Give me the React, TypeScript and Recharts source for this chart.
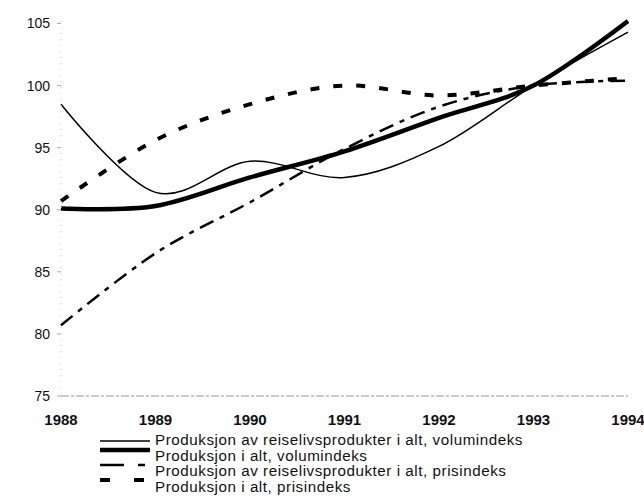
import React from 'react';
import { LineChart, Line, XAxis, YAxis } from 'recharts';

// Index values, 1993 = 100
const years = [1988, 1989, 1990, 1991, 1992, 1993, 1994];
const reiselivVolum = [98.5, 91.4, 93.9, 92.6, 95.1, 100, 104.3];
const altVolum = [90.1, 90.3, 92.6, 94.7, 97.4, 100, 105.2];
const reiselivPris = [80.7, 86.5, 90.6, 94.9, 98.3, 100, 100.4];
const altPris = [90.7, 95.6, 98.5, 100.0, 99.2, 100, 100.6];
const yTicks = [75, 80, 85, 90, 95, 100, 105];

const seriesNames = [
  'Produksjon av reiselivsprodukter i alt, volumindeks',
  'Produksjon i alt, volumindeks',
  'Produksjon av reiselivsprodukter i alt, prisindeks',
  'Produksjon i alt, prisindeks',
];

const data = years.map((year, i) => ({
  year,
  rv: reiselivVolum[i],
  av: altVolum[i],
  rp: reiselivPris[i],
  ap: altPris[i],
}));

// spreadsheet-style smoothing (cardinal spline, tension 0)
function smoothCurve(context: any) {
  const k = 1 / 6;
  let x0 = NaN, x1 = NaN, x2 = NaN, y0 = NaN, y1 = NaN, y2 = NaN;
  let p = 0;
  let line = NaN;
  const seg = (x: number, y: number) => {
    context.bezierCurveTo(
      x1 + k * (x2 - x0), y1 + k * (y2 - y0),
      x2 + k * (x1 - x), y2 + k * (y1 - y),
      x2, y2
    );
  };
  return {
    areaStart() { line = 0; },
    areaEnd() { line = NaN; },
    lineStart() { x0 = x1 = x2 = y0 = y1 = y2 = NaN; p = 0; },
    lineEnd() {
      if (p === 2) context.lineTo(x2, y2);
      else if (p === 3) seg(x1, y1);
      if (line || (line !== 0 && p === 1)) context.closePath();
      line = 1 - line;
    },
    point(x: number, y: number) {
      x = +x; y = +y;
      if (p === 0) {
        p = 1;
        line ? context.lineTo(x, y) : context.moveTo(x, y);
      } else if (p === 1) {
        p = 2; x1 = x; y1 = y;
      } else {
        if (p === 2) p = 3;
        seg(x, y);
      }
      x0 = x1; x1 = x2; x2 = x;
      y0 = y1; y1 = y2; y2 = y;
    },
  };
}

const font = '"Liberation Sans", Arial, sans-serif';

const legendRows = [
  { name: seriesNames[0], width: 1.5, dash: undefined, lineY: 8, top: 433 },
  { name: seriesNames[1], width: 4.5, dash: undefined, lineY: 1, top: 448.5 },
  { name: seriesNames[2], width: 2.5, dash: '24 14 7 20', lineY: 1, top: 464 },
  { name: seriesNames[3], width: 4, dash: '10 24', lineY: 0, top: 479.5 },
];

function Legend() {
  return (
    <div style={{ position: 'absolute', left: 100, top: 0, fontFamily: font, fontSize: 13.8, letterSpacing: 0.5, color: '#111' }}>
      {legendRows.map((r) => (
        <div key={r.name} style={{ position: 'absolute', top: r.top, left: 0, height: 15, whiteSpace: 'nowrap' }}>
          <svg width={52} height={15} style={{ position: 'absolute', left: 0, top: 0, overflow: 'visible' }}>
            <line x1={0} x2={50} y1={r.lineY} y2={r.lineY} stroke="#000" strokeWidth={r.width} strokeDasharray={r.dash} />
          </svg>
          <span style={{ position: 'absolute', left: 55, top: 0, lineHeight: '15px', display: 'inline-block', transform: 'scaleX(1.1)', transformOrigin: 'left center' }}>{r.name}</span>
        </div>
      ))}
    </div>
  );
}

export default function App() {
  return (
    <div style={{ position: 'absolute', left: 0, top: 0, width: 644, height: 504, background: '#fff' }}>
      <LineChart width={644} height={504} data={data} margin={{ top: 21, right: 16, left: 0, bottom: 78 }}>
        <XAxis
          dataKey="year"
          type="number"
          domain={[1988, 1994]}
          ticks={years}
          axisLine={{ stroke: '#999', strokeDasharray: '8 2 3 2' }}
          tickLine={false}
          tickSize={0}
          tickMargin={18}
          height={30}
          tick={{ fontSize: 15, fontWeight: 'bold', fill: '#111', fontFamily: font }}
        />
        <YAxis
          domain={[75, 105]}
          ticks={yTicks}
          width={61}
          axisLine={{ stroke: '#ccc', strokeDasharray: '1 5' }}
          tickLine={{ stroke: '#aaa' }}
          tickSize={4}
          tickMargin={7}
          tick={{ fontSize: 14, fill: '#111', fontFamily: font }}
        />
        <Line dataKey="rp" name={seriesNames[2]} type={smoothCurve as any} stroke="#000" strokeWidth={2.5} strokeDasharray="15 7 5 7" dot={false} isAnimationActive={false} />
        <Line dataKey="ap" name={seriesNames[3]} type={smoothCurve as any} stroke="#000" strokeWidth={4} strokeDasharray="9 14" dot={false} isAnimationActive={false} />
        <Line dataKey="rv" name={seriesNames[0]} type={smoothCurve as any} stroke="#000" strokeWidth={1.5} dot={false} isAnimationActive={false} />
        <Line dataKey="av" name={seriesNames[1]} type={smoothCurve as any} stroke="#000" strokeWidth={4.5} dot={false} isAnimationActive={false} />
      </LineChart>
      <Legend />
    </div>
  );
}
